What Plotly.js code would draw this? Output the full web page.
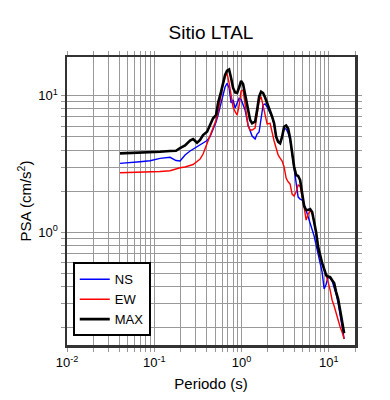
<!DOCTYPE html>
<html>
<head>
<meta charset="utf-8">
<script src="https://cdn.plot.ly/plotly-3.0.1.min.js"></script>
<style>html,body{margin:0;padding:0;background:#fff;}#chart{width:390px;height:400px;}</style>
</head>
<body>
<div id="chart"></div>
<script>
// Period (s)
const periods = [0.0405,0.0528,0.0687,0.0895,0.1165,0.1518,0.1778,0.1976,0.2255,0.2574,0.2786,0.3096,0.3351,0.3627,0.4031,0.4364,0.4723,0.5112,0.539,0.5836,0.6152,0.6485,0.6838,0.7208,0.7599,0.8012,0.8445,0.8903,0.9386,0.9895,1.043,1.1,1.19,1.255,1.323,1.432,1.51,1.592,1.678,1.769,1.865,1.966,2.128,2.244,2.365,2.494,2.629,2.772,2.922,3.08,3.247,3.423,3.609,3.804,4.011,4.228,4.458,4.699,4.955,5.223,5.506,5.805,6.119,6.451,6.801,7.17,7.558,7.969,8.401,8.856,9.337,9.842,10.38,10.94,11.53,12.16,12.82,13.51,14.25,15.02];
// NS component PSA (cm/s^2)
const ns = [3.2,3.233,3.288,3.344,3.481,3.54,3.355,3.327,3.681,3.937,4.072,4.212,4.356,4.505,4.699,5.011,5.609,6.42,7.223,8.843,9.95,11.58,12.32,11.39,8.843,9.301,8.128,8.993,9.572,9.38,8.696,7.859,6.103,5.609,5.07,4.82,5.243,5.423,6.64,8.551,8.696,8.266,7.47,6.984,6.206,4.985,4.583,4.468,4.985,5.772,5.705,5.333,4.739,3.681,2.858,2.22,1.813,1.753,1.724,1.612,1.457,1.316,1.19,1.057,0.94,0.807,0.694,0.606,0.512,0.385,0.418,0.475,0.463,0.44,0.398,0.353,0.304,0.244,0.206,0.166];
// EW component PSA (cm/s^2)
const ew = [2.731,2.74,2.749,2.763,2.787,2.825,2.931,2.971,3.006,3.083,3.136,3.299,3.441,3.743,4.43,5.011,5.705,6.64,7.597,10.29,12.18,13.78,14.54,12.39,9.95,8.266,7.635,7.223,8.408,10.82,11.01,8.696,6.001,5.609,5.609,5.801,7.102,9.146,9.833,8.408,6.832,6.206,6.281,5.243,4.66,4.141,3.681,3.499,3.327,3.006,2.497,2.346,2.257,1.907,1.844,1.972,2.22,2.183,1.876,1.532,1.23,1.361,1.432,1.408,1.19,0.972,0.755,0.659,0.596,0.539,0.487,0.433,0.378,0.319,0.289,0.257,0.22,0.203,0.186,0.166];
// MAX PSA (cm/s^2)
const maxv = [3.786,3.806,3.825,3.852,3.891,3.937,3.957,4.141,4.319,4.699,4.82,4.529,4.739,5.157,5.451,6.103,6.832,7.223,8.843,10.7,12.32,14.18,15.24,15.56,13.48,11.39,10.55,10.46,11.48,12.81,12.18,10.12,7.859,6.64,6.281,6.453,7.859,9.833,10.7,10.46,9.701,8.917,7.859,7.019,6.281,5.011,4.606,4.482,5.011,5.931,6.052,5.753,4.877,3.891,3.021,2.627,2.584,2.415,1.876,1.558,1.457,1.457,1.481,1.408,1.19,1.0,0.78,0.671,0.596,0.54,0.487,0.475,0.47,0.447,0.426,0.366,0.325,0.27,0.22,0.183];

const seriesNames = ['NS','EW','MAX'];
const titleText = 'Sitio LTAL';
const xTitle = 'Periodo (s)';
const yTitle = 'PSA (cm/s<sup>2</sup>)';
const xTickVals = [0.01,0.1,1,10];
const xTickText = ['10<sup>-2</sup>','10<sup>-1</sup>','10<sup>0</sup>','10<sup>1</sup>'];
const yTickVals = [1,10];
const yTickText = ['10<sup>0</sup>','10<sup>1</sup>'];

function minorVals(lo, hi){
  const v=[];
  for(let e=lo;e<=hi;e++){for(let m=2;m<=9;m++){v.push(m*Math.pow(10,e));}}
  return v;
}

const font = 'Liberation Sans, Arial, Helvetica, sans-serif';
const traces = [
  {x:periods,y:ns,name:seriesNames[0],mode:'lines',line:{color:'#0000ff',width:1.4}},
  {x:periods,y:ew,name:seriesNames[1],mode:'lines',line:{color:'#ff0000',width:1.4}},
  {x:periods,y:maxv,name:seriesNames[2],mode:'lines',line:{color:'#000000',width:2.6}}
];
const gridc = '#999999';
const axisCommon = {
  type:'log', showline:true, linecolor:'#333', linewidth:2.5, mirror:'allticks',
  ticks:'outside', ticklen:4, tickcolor:gridc, tickwidth:1,
  showgrid:true, gridcolor:gridc, gridwidth:1, zeroline:false,
  tickfont:{family:font,size:13,color:'#000'}, tickmode:'array'
};
const layout = {
  width:390,height:400,
  margin:{l:67,r:35,t:57,b:55},
  paper_bgcolor:'#fff',plot_bgcolor:'#fff',
  font:{family:font,color:'#000'},
  title:{text:titleText,font:{family:font,size:19,color:'#000'},x:0.5,xref:'paper',xanchor:'center',y:1-32/400,yanchor:'middle'},
  xaxis:Object.assign({},axisCommon,{
    range:[-2,Math.log10(20)], tickvals:xTickVals, ticktext:xTickText,
    title:{text:xTitle,font:{family:font,size:15,color:'#000'},standoff:10},
    minor:{tickmode:'array',tickvals:minorVals(-2,1),ticks:'outside',ticklen:4,tickcolor:gridc,showgrid:true,gridcolor:gridc,gridwidth:1}
  }),
  yaxis:Object.assign({},axisCommon,{
    range:[Math.log10(0.15),1.283], tickvals:yTickVals, ticktext:yTickText,
    title:{text:yTitle,font:{family:font,size:15,color:'#000'},standoff:3},
    minor:{tickmode:'array',tickvals:minorVals(-1,1),ticks:'outside',ticklen:4,tickcolor:gridc,showgrid:true,gridcolor:gridc,gridwidth:1}
  }),
  showlegend:true,
  legend:{x:0.02,y:0.03,xanchor:'left',yanchor:'bottom',bgcolor:'#fff',bordercolor:'#000',borderwidth:2,
    font:{family:font,size:13,color:'#000'},tracegroupgap:0}
};
Plotly.newPlot('chart',traces,layout,{displayModeBar:false,staticPlot:true});
</script>
</body>
</html>
